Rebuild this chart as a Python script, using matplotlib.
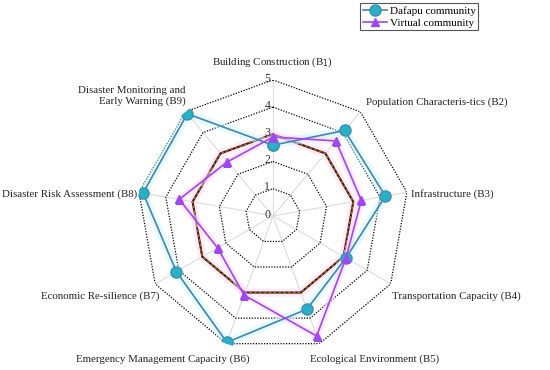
import numpy as np
import matplotlib
matplotlib.use("Agg")
import matplotlib.pyplot as plt

plt.rcParams['font.family'] = ['Liberation Serif', 'DejaVu Serif']

# indicators, clockwise from the top
labels = ['Building Construction (B$_1$)', 'Population Characteris-tics (B2)',
          'Infrastructure (B3)', 'Transportation Capacity (B4)',
          'Ecological Environment (B5)', 'Emergency Management Capacity (B6)',
          'Economic Re-silience (B7)', 'Disaster Risk Assessment (B8)',
          'Disaster Monitoring and\nEarly Warning (B9)']
dafapu = [2.6, 4.1, 4.2, 3.1, 3.65, 4.95, 4.1, 4.85, 4.9]
virtual = [2.9, 3.6, 3.3, 3.1, 4.7, 3.1, 2.35, 3.5, 2.6]
average = [3, 3, 3, 3, 3, 3, 3, 3, 3]
levels = [1, 2, 3, 4, 5]

n = len(labels)
ang = np.linspace(0, 2 * np.pi, n, endpoint=False)
closed = np.append(ang, ang[0])

def close(v):
    return np.append(v, v[0])

fig = plt.figure(figsize=(5.5, 3.7), dpi=100)
ax = fig.add_axes([0.249, 0.049, 0.4945, 0.735], projection='polar')
ax.set_theta_zero_location('N')
ax.set_theta_direction(-1)
ax.set_ylim(0, 5)
ax.grid(False)
ax.spines['polar'].set_visible(False)
ax.set_xticks([])
ax.set_yticks([])
ax.patch.set_alpha(0)

# spokes
for a in ang:
    ax.plot([a, a], [0, 5], color='#dcdcdc', lw=0.8, zorder=1)

# polygon grid rings
for lv in levels:
    if lv == 3:
        continue
    ax.plot(closed, [lv] * (n + 1), color='black', lw=0.9, ls=(0, (1, 1.2)), zorder=2)
for lv in [0] + levels:
    ax.annotate(str(lv), (0, lv), xytext=(-4, 1), textcoords='offset points',
                ha='center', va='center', fontsize=8.5, color='#333333', zorder=6)

# average line with glow
ax.plot(closed, close(average), color='#ffdcf6', lw=6, alpha=0.6, zorder=2)
ax.plot(closed, close(average), color='#2a1a10', lw=1.5, zorder=3)
ax.plot(closed, close(average), color='#c0641e', lw=1.0, ls=(0, (2, 1.5)), zorder=3)

# glows
ax.plot(closed, close(dafapu), color='#c8fbff', lw=6, alpha=0.5, zorder=3,
        solid_joinstyle='round')
ax.plot(closed, close(virtual), color='#fcd8ff', lw=5, alpha=0.5, zorder=3,
        solid_joinstyle='round')

ax.plot(closed, close(dafapu), color='#4a80b4', lw=1.2, marker='o', ms=8,
        mfc='#2ab0c4', mec='#3a8fb8', zorder=5, label='Dafapu community')
ax.plot(closed, close(virtual), color='#a047f0', lw=1.2, marker='^', ms=6,
        mfc='#a047f0', mec='#a047f0', zorder=5, label='Virtual community')

# indicator labels: (angle deg, radius, ha, va)
lab_pos = [(0, 5.66, 'center', 'center'), (39.2, 5.41, 'left', 'center'),
           (80.9, 5.14, 'left', 'center'), (124, 5.29, 'left', 'center'),
           (165.5, 5.43, 'left', 'center'), (189.5, 5.33, 'right', 'center'),
           (234.9, 5.12, 'right', 'center'), (279.2, 5.07, 'right', 'center'),
           (324, 5.45, 'right', 'center')]
for lab, (d, r, ha, va) in zip(labels, lab_pos):
    ax.text(np.deg2rad(d), r, lab, ha=ha, va=va, fontsize=7.8,
            color='#222222', multialignment='right', linespacing=1.3)

leg = fig.legend(loc='upper left', bbox_to_anchor=(0.655, 0.992), fontsize=8,
                 fancybox=False, edgecolor='#555555', framealpha=1,
                 handlelength=2.2, borderpad=0.25, labelspacing=0.2,
                 handletextpad=0.2, borderaxespad=0)
leg.get_frame().set_linewidth(0.8)

fig.savefig('out.png', dpi=100)
